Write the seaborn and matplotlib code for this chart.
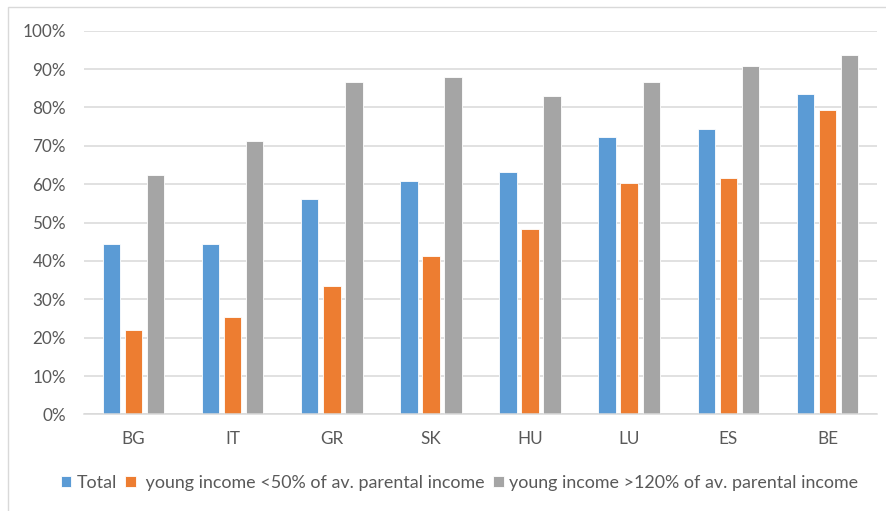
import numpy as np
import pandas as pd
import matplotlib
matplotlib.use("Agg")
import matplotlib.pyplot as plt
import seaborn as sns
from matplotlib.patches import Rectangle
from matplotlib.ticker import PercentFormatter

countries = ["BG", "IT", "GR", "SK", "HU", "LU", "ES", "BE"]
total = [44.3, 44.4, 56.1, 60.9, 63.2, 72.4, 74.4, 83.5]
low_income = [21.9, 25.4, 33.4, 41.4, 48.4, 60.4, 61.5, 79.3]
high_income = [62.3, 71.2, 86.5, 87.8, 83.0, 86.6, 90.8, 93.6]

series_names = [
    "Total",
    " young income <50% of av. parental income",
    "young income >120% of av. parental income",
]
colors = ["#5B9BD5", "#ED7D31", "#A5A5A5"]

df = pd.DataFrame({
    "country": countries * 3,
    "series": np.repeat(series_names, len(countries)),
    "value": np.concatenate([total, low_income, high_income]) / 100.0,
})

sns.set_theme(style="white")
plt.rcParams["font.family"] = ["Lato", "DejaVu Sans"]
text_color = "#595959"

fig = plt.figure(figsize=(8.87, 5.11), dpi=100)
ax = fig.add_axes([0.0947, 0.189, 0.894, 0.751])

sns.barplot(
    data=df, x="country", y="value", hue="series",
    palette=colors, width=0.667, gap=0.21,
    edgecolor="white", linewidth=0.6, saturation=1,
    ax=ax, legend=True,
)

ax.set_ylim(0, 1.0)
ax.set_xlim(-0.5, len(countries) - 0.5)
ax.set_yticks(np.arange(0, 1.01, 0.1))
ax.yaxis.set_major_formatter(PercentFormatter(1.0, decimals=0))
ax.yaxis.grid(True, color="#D9D9D9", linewidth=1.1)
ax.set_axisbelow(True)
for side in ["top", "right", "left"]:
    ax.spines[side].set_visible(False)
ax.spines["bottom"].set_color("#D9D9D9")
ax.spines["bottom"].set_linewidth(1.1)
ax.tick_params(axis="both", length=0, labelsize=12.3, colors=text_color)
ax.tick_params(axis="y", pad=13)
ax.tick_params(axis="x", pad=12)
ax.set_xlabel("")
ax.set_ylabel("")

handles, labels = ax.get_legend_handles_labels()
ax.legend_.remove()
fig.legend(
    handles, labels, loc="center", bbox_to_anchor=(0.518, 0.055),
    ncol=3, frameon=False, fontsize=12.9, labelcolor=text_color,
    handlelength=0.6, handleheight=0.6, handletextpad=0.3,
    columnspacing=0.45, borderaxespad=0,
)

# Outer chart border
fig.patches.append(Rectangle(
    (8 / 887, -0.1), 1.2, 1.1 - 6.7 / 511,
    transform=fig.transFigure, fill=False,
    edgecolor="#D9D9D9", linewidth=1.0, zorder=0,
))

fig.savefig("out.png", dpi=100)
